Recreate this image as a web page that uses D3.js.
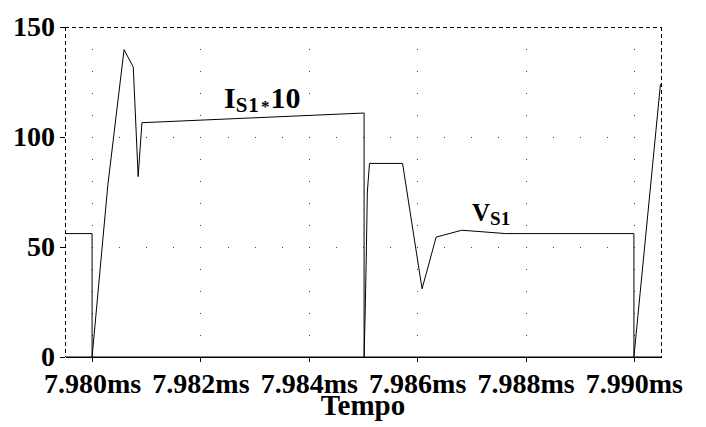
<!DOCTYPE html>
<html lang="en">
<head>
<meta charset="utf-8">
<title>Tempo</title>
<script src="https://cdn.jsdelivr.net/npm/d3@7"></script>
<style>
  html, body { margin: 0; padding: 0; background: #fff; }
  svg { display: block; }
  .lbl { font-family: "Liberation Serif", "Times New Roman", serif; font-weight: bold; fill: #000; }
  .axis text { font-family: "Liberation Serif", "Times New Roman", serif; font-weight: bold; font-size: 28px; fill: #000; }
  .axis line, .axis path { stroke: #000; shape-rendering: crispEdges; }
</style>
</head>
<body>
<script>
// I(S1)*10 trace
var timeI = [7.9795, 7.9800, 7.98029, 7.98059, 7.98076, 7.98085, 7.98092, 7.98502, 7.98502, 7.99000, 7.99049];
var valI  = [0, 0, 78, 139.7, 131.8, 82, 106.5, 110.9, 0, 0, 124];
// V(S1) trace
var timeV = [7.9795, 7.9800, 7.9800, 7.98502, 7.98504, 7.98506, 7.98508, 7.98512, 7.98573, 7.98609, 7.98635, 7.98682, 7.98700, 7.98763, 7.99000, 7.99000, 7.9905];
var valV  = [56.1, 56.1, 0, 0, 20, 45, 75, 88, 88, 31, 54.5, 57.6, 57.3, 56.1, 56.1, 0, 0];

var xTicks = [7.980, 7.982, 7.984, 7.986, 7.988, 7.990];
var yTicks = [0, 50, 100, 150];
var xDomain = [7.9795, 7.9905];
var yDomain = [0, 150];

var W = 706, H = 427;
var pLeft = 65, pRight = 661, pTop = 27, pBot = 357;

var svg = d3.select("body").append("svg")
  .attr("width", W)
  .attr("height", H);

var x = d3.scaleLinear().domain(xDomain).range([pLeft, pRight]);
var y = d3.scaleLinear().domain(yDomain).range([pBot, pTop]);

// dotted grid: dots along major verticals every 10, along 50/100 rows every 0.0005ms
var grid = svg.append("g").attr("fill", "#444");
xTicks.forEach(function(t) {
  d3.range(10, 150, 10).forEach(function(v) {
    grid.append("rect").attr("x", Math.round(x(t))).attr("y", Math.round(y(v))).attr("width", 1).attr("height", 1);
  });
});
[50, 100].forEach(function(v) {
  d3.range(1, 22).forEach(function(k) {
    var t = xDomain[0] + k * 0.0005;
    grid.append("rect").attr("x", Math.round(x(t))).attr("y", Math.round(y(v))).attr("width", 1).attr("height", 1);
  });
});

// frame: dashed top, left, right
var frame = svg.append("g")
  .attr("stroke", "#000")
  .attr("stroke-dasharray", "4,3")
  .attr("shape-rendering", "crispEdges");
frame.append("line").attr("x1", pLeft).attr("x2", pRight).attr("y1", pTop + 0.5).attr("y2", pTop + 0.5);
frame.append("line").attr("x1", pLeft + 0.5).attr("x2", pLeft + 0.5).attr("y1", pTop).attr("y2", pBot);
frame.append("line").attr("x1", pRight + 0.5).attr("x2", pRight + 0.5).attr("y1", pTop).attr("y2", pBot);

// axes
var xAxis = svg.append("g")
  .attr("class", "axis")
  .attr("transform", "translate(0," + pBot + ")")
  .call(d3.axisBottom(x).tickValues(xTicks).tickSizeInner(5).tickSizeOuter(0)
    .tickFormat(function(d) { return d3.format(".3f")(d) + "ms"; }));
xAxis.selectAll("text").attr("y", 16).attr("dy", "0.71em");

var yAxis = svg.append("g")
  .attr("class", "axis")
  .attr("transform", "translate(" + pLeft + ",0)")
  .call(d3.axisLeft(y).tickValues(yTicks).tickSizeInner(5).tickSizeOuter(0));
yAxis.select(".domain").remove();
yAxis.selectAll("text").attr("x", -10);

svg.append("text")
  .attr("class", "lbl")
  .attr("x", (pLeft + pRight) / 2)
  .attr("y", 415)
  .attr("text-anchor", "middle")
  .attr("font-size", 29)
  .text("Tempo");

// traces
svg.append("clipPath").attr("id", "clip")
  .append("rect").attr("x", pLeft).attr("y", pTop - 2).attr("width", pRight - pLeft + 1).attr("height", pBot - pTop + 2);

var line = d3.line()
  .x(function(d) { return x(d[0]); })
  .y(function(d) { return y(d[1]); });

var plot = svg.append("g").attr("clip-path", "url(#clip)");
plot.append("path")
  .datum(d3.zip(timeV, valV))
  .attr("d", line)
  .attr("fill", "none")
  .attr("stroke", "#000")
  .attr("stroke-width", 1);
plot.append("path")
  .datum(d3.zip(timeI, valI))
  .attr("d", line)
  .attr("fill", "none")
  .attr("stroke", "#000")
  .attr("stroke-width", 1);

// trace labels
var lI = svg.append("text").attr("class", "lbl").attr("x", 224).attr("y", 108).attr("font-size", 30);
lI.append("tspan").text("I");
lI.append("tspan").attr("font-size", 21).attr("dy", 4).attr("letter-spacing", 1).text("S1");
lI.append("tspan").attr("font-size", 17).attr("dx", 1).attr("dy", 0).text("*");
lI.append("tspan").attr("dx", 1).attr("dy", -4).text("10");

var lV = svg.append("text").attr("class", "lbl").attr("x", 472).attr("y", 221).attr("font-size", 25);
lV.append("tspan").text("V");
lV.append("tspan").attr("font-size", 19).attr("dy", 4).text("S1");
</script>
</body>
</html>
